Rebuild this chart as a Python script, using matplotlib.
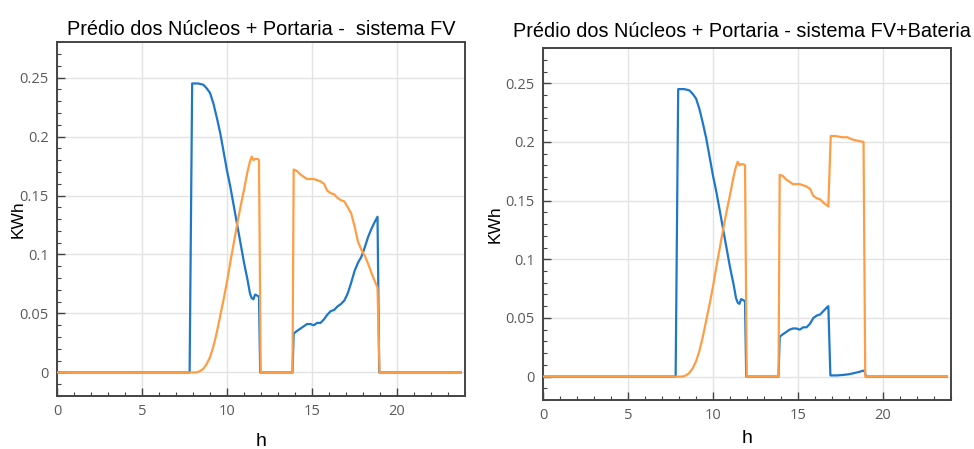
import matplotlib
matplotlib.use('Agg')
import matplotlib.pyplot as plt
from matplotlib.ticker import MultipleLocator

# hours / kWh
# left chart: sistema FV
fv_blue_h = [0, 7.8, 7.95, 8.3, 8.6, 8.8, 9.0, 9.2, 9.4, 9.6, 9.8, 10.0, 10.2, 10.4, 10.6,
             10.8, 11.0, 11.2, 11.35, 11.45, 11.55, 11.65, 11.8, 11.88, 11.95, 13.85,
             13.92, 14.1, 14.3, 14.5, 14.7, 14.9, 15.1, 15.3, 15.5, 15.7, 15.9, 16.1, 16.3,
             16.5, 16.7, 16.9, 17.1, 17.3, 17.5, 17.7, 17.9, 18.1, 18.3, 18.5, 18.7, 18.85,
             18.95, 23.75]
fv_blue_kwh = [0, 0, 0.245, 0.245, 0.244, 0.241, 0.237, 0.228, 0.216, 0.203, 0.187, 0.171,
               0.157, 0.141, 0.125, 0.109, 0.093, 0.079, 0.067, 0.063, 0.062, 0.066, 0.065,
               0.064, 0, 0, 0.033, 0.035, 0.037, 0.039, 0.041, 0.041, 0.040, 0.042, 0.042,
               0.045, 0.049, 0.052, 0.053, 0.056, 0.058, 0.061, 0.067, 0.076, 0.086, 0.093,
               0.098, 0.106, 0.115, 0.122, 0.128, 0.132, 0, 0]

fv_orange_h = [0, 8.2, 8.4, 8.6, 8.8, 9.0, 9.2, 9.4, 9.6, 9.8, 10.0, 10.2, 10.4, 10.6, 10.8,
               11.0, 11.2, 11.35, 11.45, 11.55, 11.65, 11.8, 11.88, 11.98, 13.85, 13.92,
               14.1, 14.3, 14.5, 14.7, 14.9, 15.1, 15.3, 15.5, 15.7, 15.9, 16.1, 16.3, 16.5,
               16.7, 16.9, 17.1, 17.3, 17.5, 17.7, 17.9, 18.1, 18.3, 18.5, 18.7, 18.85,
               18.97, 23.75]
fv_orange_kwh = [0, 0, 0.001, 0.003, 0.007, 0.013, 0.022, 0.034, 0.048, 0.062, 0.077, 0.094,
                 0.110, 0.126, 0.141, 0.155, 0.170, 0.179, 0.183, 0.180, 0.181, 0.181, 0.180,
                 0, 0, 0.172, 0.171, 0.168, 0.166, 0.164, 0.164, 0.164, 0.163, 0.162, 0.160,
                 0.154, 0.152, 0.151, 0.148, 0.146, 0.145, 0.140, 0.135, 0.124, 0.111, 0.104,
                 0.099, 0.092, 0.084, 0.077, 0.072, 0, 0]

# right chart: sistema FV+Bateria
bat_blue_h = [0, 7.8, 7.95, 8.3, 8.6, 8.8, 9.0, 9.2, 9.4, 9.6, 9.8, 10.0, 10.2, 10.4, 10.6,
              10.8, 11.0, 11.2, 11.35, 11.45, 11.55, 11.65, 11.8, 11.88, 11.95, 13.85,
              13.92, 14.1, 14.3, 14.5, 14.7, 14.9, 15.1, 15.3, 15.5, 15.7, 15.9, 16.1, 16.3,
              16.5, 16.7, 16.78, 16.9, 17.3, 17.7, 18.0, 18.3, 18.6, 18.8, 18.9, 19.0, 23.75]
bat_blue_kwh = [0, 0, 0.245, 0.245, 0.244, 0.241, 0.237, 0.228, 0.216, 0.203, 0.187, 0.171,
                0.157, 0.141, 0.125, 0.109, 0.093, 0.079, 0.067, 0.063, 0.062, 0.066, 0.065,
                0.064, 0, 0, 0.034, 0.036, 0.038, 0.040, 0.041, 0.041, 0.040, 0.042, 0.042,
                0.045, 0.050, 0.052, 0.053, 0.056, 0.059, 0.060, 0.001, 0.001, 0.0015, 0.002,
                0.003, 0.004, 0.005, 0.005, 0, 0]

bat_orange_h = [0, 8.2, 8.4, 8.6, 8.8, 9.0, 9.2, 9.4, 9.6, 9.8, 10.0, 10.2, 10.4, 10.6, 10.8,
                11.0, 11.2, 11.35, 11.45, 11.55, 11.65, 11.8, 11.88, 11.98, 13.85, 13.92,
                14.1, 14.3, 14.5, 14.7, 14.9, 15.1, 15.3, 15.5, 15.7, 15.9, 16.1, 16.3, 16.5,
                16.7, 16.78, 16.92, 17.2, 17.6, 17.9, 18.2, 18.5, 18.85, 18.95, 23.75]
bat_orange_kwh = [0, 0, 0.001, 0.003, 0.007, 0.013, 0.022, 0.034, 0.048, 0.062, 0.077, 0.094,
                  0.110, 0.126, 0.141, 0.155, 0.170, 0.179, 0.183, 0.180, 0.181, 0.181, 0.180,
                  0, 0, 0.172, 0.171, 0.168, 0.166, 0.164, 0.164, 0.164, 0.163, 0.162, 0.160,
                  0.154, 0.152, 0.151, 0.148, 0.146, 0.145, 0.205, 0.205, 0.204, 0.204,
                  0.202, 0.201, 0.200, 0, 0]

titles = ['Prédio dos Núcleos + Portaria -  sistema FV',
          'Prédio dos Núcleos + Portaria - sistema FV+Bateria']

blue = '#1f77c8'
orange = '#ff9d45'
frame = '#444444'

fig = plt.figure(figsize=(9.74, 4.49), dpi=100)
ax1 = fig.add_axes([0.0585, 0.118, 0.419, 0.788])
ax2 = fig.add_axes([0.5575, 0.109, 0.419, 0.784])

panels = [
    (ax1, fv_blue_h, fv_blue_kwh, fv_orange_h, fv_orange_kwh, titles[0], 5, 0.5, -0.078, 10),
    (ax2, bat_blue_h, bat_blue_kwh, bat_orange_h, bat_orange_kwh, titles[1], 8, 0.488, -0.098, 5),
]

for ax, bh, bk, oh, ok, title, pad, tx, ylx, xlpad in panels:
    ax.plot(bh, bk, color=blue, lw=1.6, zorder=3)
    ax.plot(oh, ok, color=orange, lw=1.6, zorder=3)
    ax.set_xlim(0, 24)
    ax.set_ylim(-0.02, 0.28)
    ax.xaxis.set_major_locator(MultipleLocator(5))
    ax.xaxis.set_minor_locator(MultipleLocator(1))
    ax.yaxis.set_minor_locator(MultipleLocator(0.01))
    ax.set_yticks([0, 0.05, 0.1, 0.15, 0.2, 0.25])
    ax.set_yticklabels(['0', '0.05', '0.1', '0.15', '0.2', '0.25'])
    ax.grid(True, which='major', color='#e3e3e3', lw=1.0, zorder=0)
    ax.tick_params(which='both', direction='in', color=frame, top=False, right=False,
                   labelsize=10.5, labelcolor='#5a5a5a')
    ax.tick_params(which='major', length=6, width=1, pad=6)
    ax.tick_params(which='minor', length=3, width=0.8)
    for lab in ax.get_xticklabels() + ax.get_yticklabels():
        lab.set_family('Open Sans')
    for s in ax.spines.values():
        s.set_color(frame)
        s.set_linewidth(1.4)
    ax.set_title(title, fontsize=14.3, family='Liberation Sans', pad=pad, x=tx)
    ax.set_xlabel('h', fontsize=14, family='Liberation Sans', labelpad=xlpad)
    ax.set_ylabel('KWh', fontsize=12.5, family='Liberation Sans')
    ax.yaxis.set_label_coords(ylx, 0.5)

fig.savefig('out.png', dpi=100, facecolor='white')
